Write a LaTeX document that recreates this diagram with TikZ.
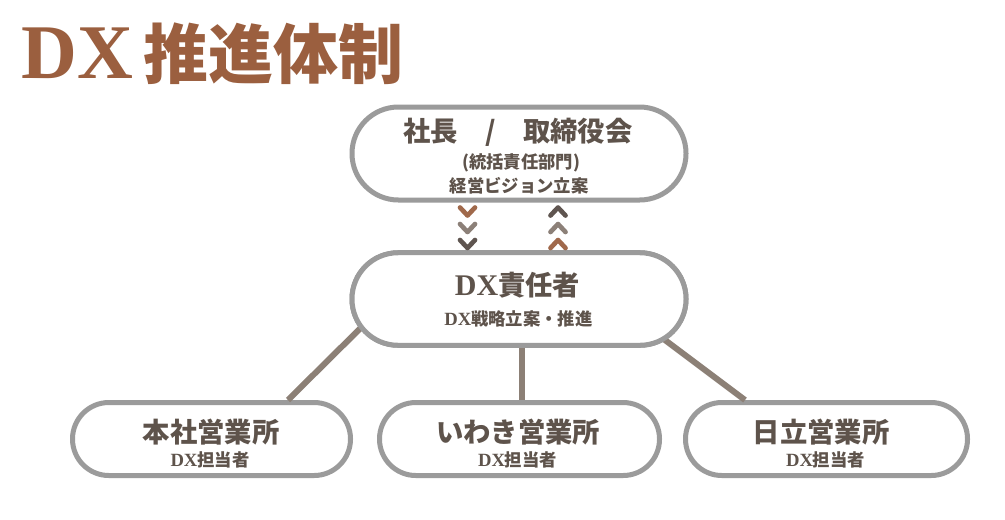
\documentclass[tikz,border=0pt]{standalone}
\usepackage{fontspec}
\setmainfont{Liberation Serif}
\newfontfamily\cjk{Noto Sans CJK JP}
\newfontfamily\lat{Liberation Serif}
\usetikzlibrary{calc}
\definecolor{titlebrown}{RGB}{155,95,63}
\definecolor{ink}{RGB}{94,83,75}
\definecolor{boxgray}{RGB}{155,155,155}
\definecolor{connc}{RGB}{140,128,118}
\definecolor{chevbrown}{RGB}{160,105,75}
\definecolor{chevgray}{RGB}{140,128,120}
\definecolor{chevdark}{RGB}{95,85,80}
\newcommand\dxbig{{\lat\bfseries\fontsize{22.5}{24}\selectfont DX}}
\newcommand\dxsmall{{\lat\bfseries\fontsize{14}{16}\selectfont DX}}
\tikzset{
  pill/.style n args={3}{draw=boxgray, line width=3.75pt, fill=white, inner sep=0pt,
     minimum width=#1, minimum height=#2, rounded corners=#3},
  bigtxt/.style={inner sep=0pt, text=ink, font=\cjk\bfseries\fontsize{20.5}{24}\selectfont},
  smalltxt/.style={inner sep=0pt, text=ink, font=\cjk\bfseries\fontsize{13}{15}\selectfont},
  conn/.style={draw=connc, line width=4.5pt},
  chev/.style={line width=3.5pt, line cap=round, line join=round},
}
\newcommand\chevdown[2]{\draw[chev,#2] ($(#1)+(-7.5,-4)$) -- ($(#1)+(0,4)$) -- ($(#1)+(7.5,-4)$);}
\newcommand\chevup[2]{\draw[chev,#2] ($(#1)+(-7.5,4)$) -- ($(#1)+(0,-4)$) -- ($(#1)+(7.5,4)$);}
\begin{document}
\begin{tikzpicture}[x=0.75pt,y=-0.75pt]
\useasboundingbox[fill=white] (0,0) rectangle (1005,519);

% title
\node[anchor=base west, inner sep=0pt, text=titlebrown, font=\cjk\bfseries\fontsize{48.75}{52}\selectfont]
  (title) at (21,78) {{\lat\bfseries\fontsize{58}{60}\selectfont DX}\hspace{8pt}推進体制};

% boxes (sizes in pt = px*0.75)
\node[pill={250.5pt}{69.75pt}{34.8pt}] (top) at (519,153.5) {};
\node[pill={250.5pt}{69.4pt}{34.6pt}] (mid) at (519,299) {};
\node[pill={208.5pt}{54.75pt}{27.3pt}] (lb) at (211.5,439) {};
\node[pill={210pt}{54.75pt}{27.3pt}] (cb) at (519.5,439) {};
\node[pill={211.5pt}{54.75pt}{27.3pt}] (rb) at (826.5,439) {};

% connectors
\draw[conn] ($(mid.south)+(-145,-33)$) -- ($(lb.north)+(76.5,0)$);
\draw[conn] ($(mid.south)+(3,0)$) -- ($(cb.north)+(2.5,0)$);
\draw[conn] ($(mid.south)+(131,-19)$) -- ($(rb.north)+(-81.5,0)$);
% redraw middle box over the connector starts
\node[pill={250.5pt}{69.4pt}{34.6pt}] (midcover) at (mid) {};

% chevrons
\coordinate (d1) at ($(top.south)+(-51.5,9)$);
\coordinate (d2) at ($(top.south)+(-51.5,25.5)$);
\coordinate (d3) at ($(top.south)+(-51.5,41.5)$);
\coordinate (u1) at ($(top.south)+(39,9)$);
\coordinate (u2) at ($(top.south)+(39,25.5)$);
\coordinate (u3) at ($(top.south)+(39,41.5)$);
\chevdown{d1}{chevbrown}
\chevdown{d2}{chevgray}
\chevdown{d3}{chevdark}
\chevup{u1}{chevdark}
\chevup{u2}{chevgray}
\chevup{u3}{chevbrown}

% texts
\node[bigtxt] (t1) at (518,132) {社長\hspace{1em}/\hspace{1em}取締役会};
\node[smalltxt] (t2) at (521,163) {(統括責任部門)};
\node[smalltxt] (t3) at (519,186) {経営ビジョン立案};
\node[bigtxt] (m1) at (517.5,285) {\dxbig 責任者};
\node[smalltxt] (m2) at (518.5,319) {\dxsmall 戦略立案・推進};
\node[bigtxt] (l1) at (211,432) {本社営業所};
\node[smalltxt] (l2) at (210,460) {\dxsmall 担当者};
\node[bigtxt] (c1) at (518,432) {いわき営業所};
\node[smalltxt] (c2) at (517.5,460) {\dxsmall 担当者};
\node[bigtxt] (r1) at (821,432) {日立営業所};
\node[smalltxt] (r2) at (825.5,460) {\dxsmall 担当者};
\end{tikzpicture}
\end{document}
